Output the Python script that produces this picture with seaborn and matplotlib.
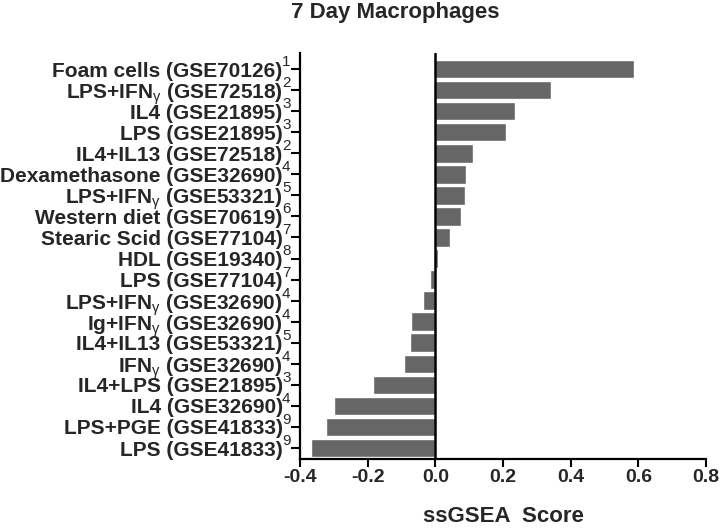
import pandas as pd
import matplotlib
matplotlib.use("Agg")
import matplotlib.pyplot as plt
import seaborn as sns

# Data
labels = [
    "Foam cells (GSE70126)",
    "LPS+IFN$_{\\gamma}$ (GSE72518)",
    "IL4 (GSE21895)",
    "LPS (GSE21895)",
    "IL4+IL13 (GSE72518)",
    "Dexamethasone (GSE32690)",
    "LPS+IFN$_{\\gamma}$ (GSE53321)",
    "Western diet (GSE70619)",
    "Stearic Scid (GSE77104)",
    "HDL (GSE19340)",
    "LPS (GSE77104)",
    "LPS+IFN$_{\\gamma}$ (GSE32690)",
    "Ig+IFN$_{\\gamma}$ (GSE32690)",
    "IL4+IL13 (GSE53321)",
    "IFN$_{\\gamma}$ (GSE32690)",
    "IL4+LPS (GSE21895)",
    "IL4 (GSE32690)",
    "LPS+PGE (GSE41833)",
    "LPS (GSE41833)",
]
refs = [1, 2, 3, 3, 2, 4, 5, 6, 7, 8, 7, 4, 4, 5, 4, 3, 4, 9, 9]
scores = [0.587, 0.342, 0.235, 0.208, 0.112, 0.090, 0.089, 0.075, 0.043, 0.008,
          -0.017, -0.036, -0.073, -0.075, -0.094, -0.183, -0.299, -0.322, -0.368]
x_ticks = [-0.4, -0.2, 0.0, 0.2, 0.4, 0.6, 0.8]

sns.set_style("white")
plt.rcParams['font.family'] = ['Liberation Sans', 'DejaVu Sans']
plt.rcParams['mathtext.fontset'] = 'custom'
plt.rcParams['mathtext.rm'] = 'Liberation Sans'
plt.rcParams['mathtext.it'] = 'Liberation Sans'

df = pd.DataFrame({"label": labels, "score": scores})

fig = plt.figure(figsize=(7.2, 5.28), dpi=100)
ax = fig.add_axes([300 / 720, 69 / 528, 406 / 720, 406 / 528])

sns.barplot(data=df, x="score", y="label", color="#666666", saturation=1,
            width=0.88, ax=ax)

# zero line across the full height
ax.axvline(0, color="black", lw=1.8, zorder=3)

ax.set_xlim(-0.4, 0.8)
ax.set_ylim(18.52, -0.76)
ax.set_xticks(x_ticks)
ax.set_xticklabels([f"{t:.1f}" for t in x_ticks], fontsize=14, fontweight="bold")

for side in ["top", "right"]:
    ax.spines[side].set_visible(False)
for side in ["left", "bottom"]:
    ax.spines[side].set_linewidth(1.6)
    ax.spines[side].set_color("black")

ax.tick_params(axis="y", left=True, length=6.5, width=1.5, pad=6.0, color="black")
ax.tick_params(axis="x", bottom=True, length=5.5, width=1.5, pad=2, color="black")
for lbl in ax.get_yticklabels():
    lbl.set_fontsize(15)
    lbl.set_fontweight("bold")

# superscript reference numbers next to each label
for i, r in enumerate(refs):
    ax.annotate(str(r), xy=(0, i), xycoords=ax.get_yaxis_transform(),
                xytext=(-6.8, 2.2), textcoords="offset points",
                ha="right", va="baseline", fontsize=11)

ax.set_ylabel("")
ax.set_xlabel("ssGSEA  Score", fontsize=16, fontweight="bold", labelpad=14)

fig.text(395 / 720, 1 - 18 / 528, "7 Day Macrophages", ha="center", va="baseline",
         fontsize=16, fontweight="bold")

plt.savefig("out.png", dpi=100)
plt.close()
